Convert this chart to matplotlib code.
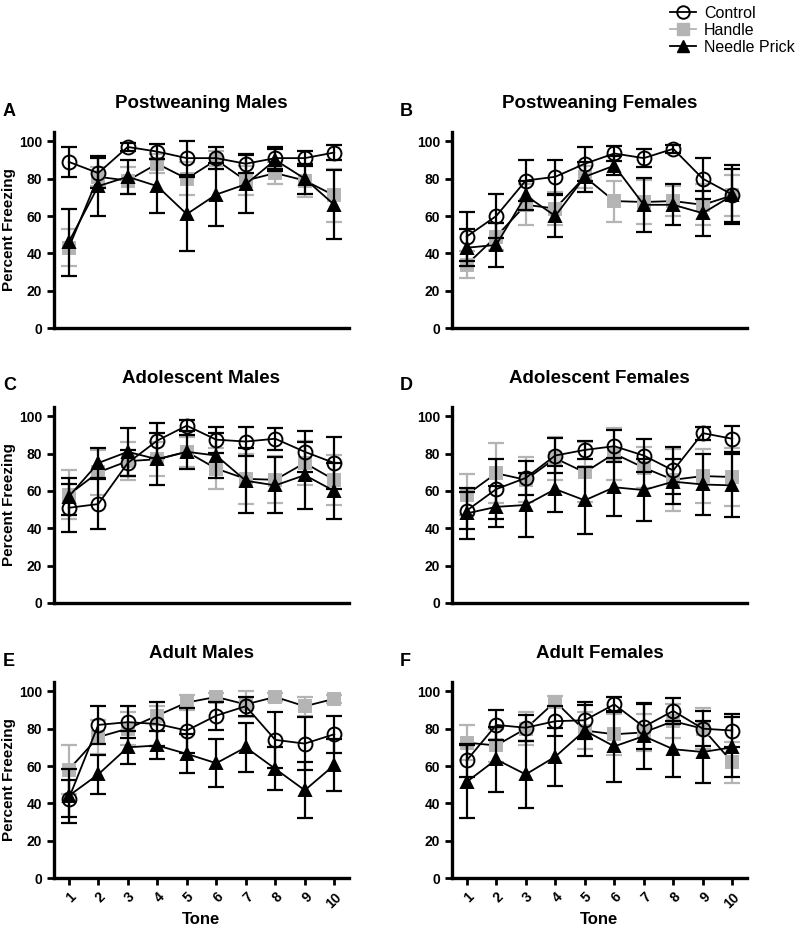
import numpy as np
import matplotlib
matplotlib.use("Agg")
import matplotlib.pyplot as plt
from matplotlib.lines import Line2D

plt.rcParams['font.family'] = ['Liberation Sans', 'DejaVu Sans']

tones = [1, 2, 3, 4, 5, 6, 7, 8, 9, 10]
tone_labels = ["1", "2", "3", "4", "5", "6", "7", "8", "9", "10"]
groups = ["Control", "Handle", "Needle Prick"]

# A - Postweaning Males
a_ctrl = [89, 83, 97, 94.5, 91, 91, 88, 91, 91, 94]
a_ctrl_sem = [8, 8, 2, 4, 9, 6, 5, 6, 4, 4]
a_hand = [43, 81, 79, 88, 80, 90, 79, 83, 79, 71]
a_hand_sem = [10, 5, 7, 5, 9, 5, 8, 6, 9, 14]
a_needle = [46, 76, 81, 76, 61, 71.5, 77, 90, 80, 66]
a_needle_sem = [18, 16, 9, 14.5, 20, 17, 15.5, 6, 8, 18.5]

# B - Postweaning Females
b_ctrl = [49, 60, 79, 81, 88, 93.5, 91, 96, 80, 71.5]
b_ctrl_sem = [13, 12, 11, 9, 9, 4, 5, 2, 11, 16]
b_hand = [34, 49, 66, 64, 81, 68, 67.5, 68, 66, 71]
b_hand_sem = [7, 7, 11, 9, 6, 11, 12, 8, 11, 11]
b_needle = [43, 44.5, 71, 60, 81, 87, 66, 66, 61.5, 71]
b_needle_sem = [10, 12, 8, 11.5, 8, 5, 14.5, 11, 12, 14]

# C - Adolescent Males
c_ctrl = [51, 53, 75, 87, 95, 87.5, 86.5, 88, 81, 75]
c_ctrl_sem = [13, 13.5, 7, 9.5, 3, 7, 8, 6, 11, 14]
c_hand = [58, 70, 76, 77, 81, 72, 66.5, 66, 75, 66]
c_hand_sem = [13, 12, 10, 9, 8, 11, 13.5, 12.5, 12, 13.5]
c_needle = [57, 75, 81, 77, 81, 79, 65.5, 63, 68.5, 60]
c_needle_sem = [10, 8, 13, 14, 9, 12, 17.5, 15, 18, 15]

# D - Adolescent Females
d_ctrl = [49.5, 61, 67, 79, 82, 84, 79, 71, 91, 88]
d_ctrl_sem = [10, 16, 9, 9.5, 5, 8.5, 9, 12.5, 3.5, 7]
d_hand = [58, 69.5, 66, 77.5, 70, 80, 72.5, 66, 68, 67.5]
d_hand_sem = [11, 16, 12, 11.5, 16, 14, 11, 16.5, 14.5, 15.5]
d_needle = [48, 51.5, 52.5, 61, 55, 62, 60.5, 65, 63.5, 63]
d_needle_sem = [13.5, 11, 17, 12.5, 18, 15.5, 16.5, 12, 16.5, 17]

# E - Adult Males
e_ctrl = [42.5, 82, 83.5, 82.5, 79, 87, 92, 74, 72, 77]
e_ctrl_sem = [10, 10, 8.5, 12, 12, 7.5, 5, 15, 14, 10]
e_hand = [58, 75.5, 80, 87, 94, 97, 93, 97, 92, 96]
e_hand_sem = [13, 9, 9, 5, 4, 2, 7, 2, 5, 2]
e_needle = [44, 55.5, 70, 71, 66.5, 61.5, 70, 58.5, 47, 60.5]
e_needle_sem = [14.5, 10.5, 9, 7.5, 10.5, 13, 13, 11.5, 15, 14]

# F - Adult Females
f_ctrl = [63, 82, 80.5, 84, 84.5, 93, 81, 89.5, 80, 79]
f_ctrl_sem = [9, 8, 7, 8, 10, 4, 12, 7, 9.5, 9]
f_hand = [72.5, 71, 80, 94.5, 79, 77, 78, 84, 80, 62]
f_hand_sem = [9.5, 9, 9, 3, 10, 11, 10, 9, 11, 11]
f_needle = [51.5, 63.5, 55.5, 65, 79, 70.5, 76, 69, 67.5, 70]
f_needle_sem = [19.5, 17.5, 18, 15.5, 13.5, 19, 17.5, 15, 16.5, 16]

titles = ["Postweaning Males", "Postweaning Females", "Adolescent Males",
          "Adolescent Females", "Adult Males", "Adult Females"]
letters = ["A", "B", "C", "D", "E", "F"]

panels = [
    (a_ctrl, a_ctrl_sem, a_hand, a_hand_sem, a_needle, a_needle_sem),
    (b_ctrl, b_ctrl_sem, b_hand, b_hand_sem, b_needle, b_needle_sem),
    (c_ctrl, c_ctrl_sem, c_hand, c_hand_sem, c_needle, c_needle_sem),
    (d_ctrl, d_ctrl_sem, d_hand, d_hand_sem, d_needle, d_needle_sem),
    (e_ctrl, e_ctrl_sem, e_hand, e_hand_sem, e_needle, e_needle_sem),
    (f_ctrl, f_ctrl_sem, f_hand, f_hand_sem, f_needle, f_needle_sem),
]

GREY = "#b4b4b4"
W, H = 800, 932

fig = plt.figure(figsize=(8, 9.32), dpi=100)

lefts = [54, 452]
letter_x = [3, 400]
width = 295
bottoms = [328, 603, 878]   # pixel y of x-axis
height = 196


def draw_group(ax, y, err, marker, mcolor, ecolor, mfc, ms, z):
    ax.errorbar(tones, y, yerr=err, fmt="none", ecolor=ecolor,
                elinewidth=1.6, capsize=5.5, capthick=1.6, zorder=z)
    ax.plot(tones, y, color="black", lw=1.3, marker=marker, ms=ms,
            mfc=mfc, mec=mcolor, mew=1.4, zorder=z + 0.5)


for i, (data, title, letter) in enumerate(zip(panels, titles, letters)):
    row, col = divmod(i, 2)
    l = lefts[col]
    b = bottoms[row]
    ax = fig.add_axes([l / W, 1 - b / H, width / W, height / H])
    ctrl, ctrl_sem, hand, hand_sem, needle, needle_sem = data

    draw_group(ax, hand, hand_sem, "s", GREY, GREY, GREY, 8, 2)
    draw_group(ax, needle, needle_sem, "^", "black", "black", "black", 8, 3)
    draw_group(ax, ctrl, ctrl_sem, "o", "black", "black", "none", 10, 4)

    ax.set_xlim(0.5, 10.5)
    ax.set_ylim(0, 105)
    ax.set_yticks([0, 20, 40, 60, 80, 100])
    ax.set_xticks(tones)
    for s in ["top", "right"]:
        ax.spines[s].set_visible(False)
    for s in ["left", "bottom"]:
        ax.spines[s].set_linewidth(2.4)
    ax.tick_params(axis="both", width=2, length=5, labelsize=10)
    for lab in ax.get_yticklabels():
        lab.set_fontweight("bold")

    if row == 2:
        ax.set_xticklabels(tone_labels, rotation=45, ha="right",
                           rotation_mode="anchor", fontweight="bold")
        ax.set_xlabel("Tone", fontsize=12, fontweight="bold", labelpad=1)
    else:
        ax.set_xticklabels([])
        ax.tick_params(axis="x", length=0)

    if col == 0:
        ax.set_ylabel("Percent Freezing", fontsize=11, fontweight="bold")
        ax.yaxis.set_label_coords(-0.13, 0.5)

    ax.set_title(title, fontsize=13.5, fontweight="bold", pad=17)
    fig.text(letter_x[col] / W, 1 - (b - height - 21) / H, letter,
             fontsize=13, fontweight="bold", va="center", ha="left")

handles = [
    Line2D([], [], color="black", lw=1.3, marker="o", ms=9, mfc="none",
           mec="black", mew=1.4),
    Line2D([], [], color=GREY, lw=1.3, marker="s", ms=8, mfc=GREY,
           mec=GREY),
    Line2D([], [], color="black", lw=1.3, marker="^", ms=8, mfc="black",
           mec="black"),
]
fig.legend(handles, groups, loc="upper left", bbox_to_anchor=(0.826, 1.004),
           frameon=False, fontsize=11.5, handlelength=1.6, handletextpad=0.5,
           labelspacing=0.12, borderaxespad=0.2)

fig.savefig("out.png", dpi=100)
